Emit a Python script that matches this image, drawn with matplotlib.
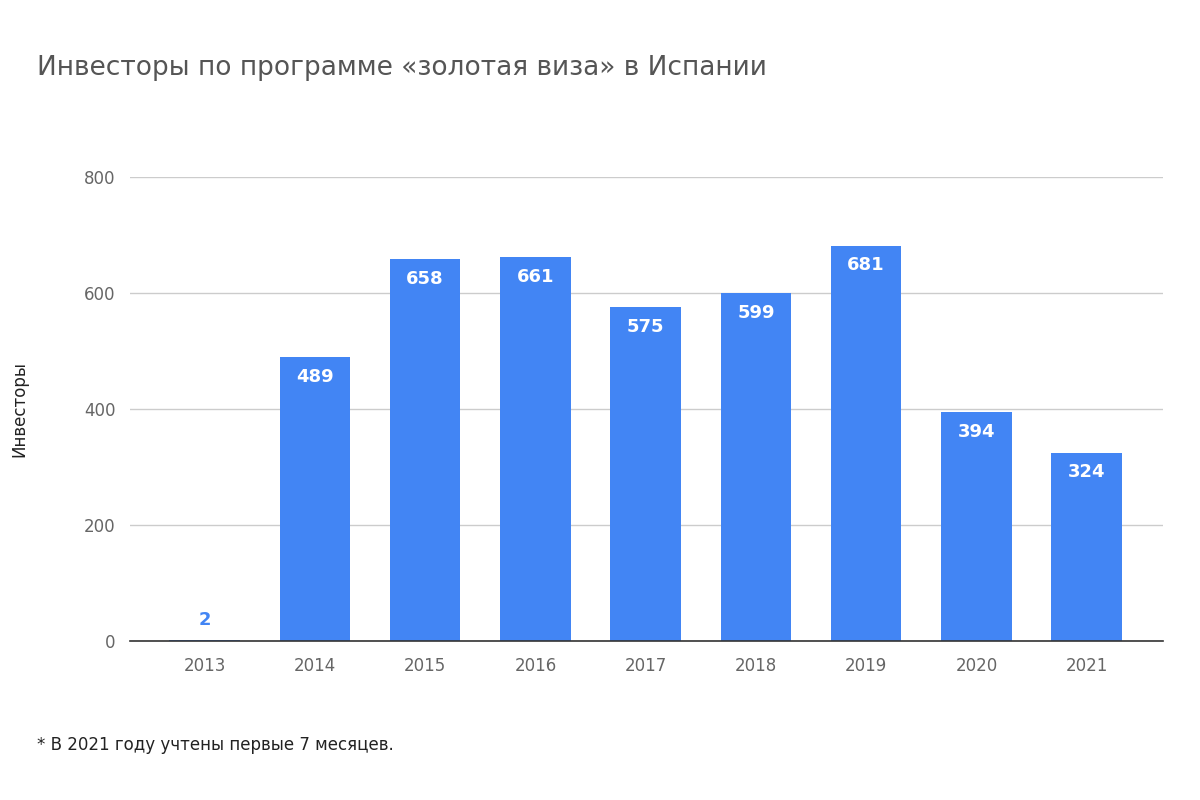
import matplotlib.pyplot as plt

years = ['2013', '2014', '2015', '2016', '2017', '2018', '2019', '2020', '2021']
investors = [2, 489, 658, 661, 575, 599, 681, 394, 324]
y_ticks = [0, 200, 400, 600, 800]

bar_color = '#4285F4'

fig = plt.figure(figsize=(12, 8), dpi=100)
ax = fig.add_axes([0.108, 0.199, 0.861, 0.58])

x = range(len(years))
ax.bar(x, investors, width=0.64, color=bar_color, zorder=3)

# Value labels: inside the bar, or above it when the bar is too short
for xi, v in zip(x, investors):
    if v > 60:
        ax.text(xi, v - 18, str(v), ha='center', va='top', color='white',
                fontsize=13, fontweight='bold', zorder=4)
    else:
        ax.text(xi, v + 18, str(v), ha='center', va='bottom', color=bar_color,
                fontsize=13, fontweight='bold', zorder=4)

ax.set_xlim(-0.68, len(years) - 1 + 0.69)
ax.set_ylim(0, 800)
ax.set_xticks(list(x))
ax.set_xticklabels(years)
ax.set_yticks(y_ticks)
ax.tick_params(axis='both', length=0, labelsize=12, labelcolor='#666666')
ax.tick_params(axis='x', pad=12)
ax.tick_params(axis='y', pad=10)
ax.grid(axis='y', color='#cccccc', linewidth=1, zorder=0)
for side in ['top', 'right', 'left']:
    ax.spines[side].set_visible(False)
ax.spines['bottom'].set_color('#333333')
ax.spines['bottom'].set_linewidth(1.2)
ax.spines['bottom'].set_zorder(5)

ax.set_ylabel('Инвесторы', fontsize=12, color='#222222', labelpad=40)

fig.text(0.031, 0.915, 'Инвесторы по программе «золотая виза» в Испании',
         fontsize=19, color='#555555', ha='left', va='center')
fig.text(0.031, 0.069, '* В 2021 году учтены первые 7 месяцев.',
         fontsize=12, color='#222222', ha='left', va='center')

fig.savefig('out.png', dpi=100, facecolor='white')
